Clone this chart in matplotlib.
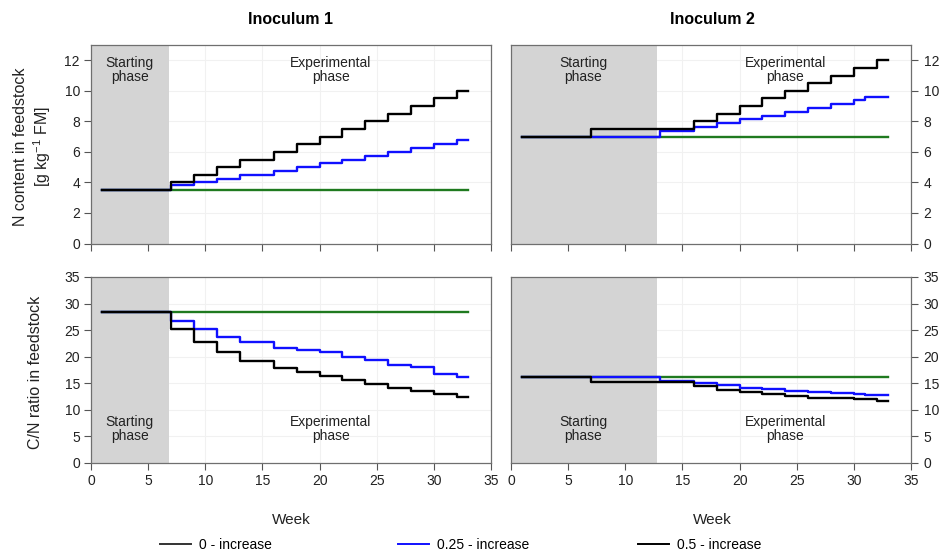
import matplotlib
matplotlib.use("Agg")
import matplotlib.pyplot as plt
from matplotlib.lines import Line2D

plt.rcParams['font.family'] = ['Liberation Sans', 'DejaVu Sans']
plt.rcParams['mathtext.default'] = 'regular'

# weeks where the feeding changes (step functions, value holds until next week)
weeks_i1 = [1, 7, 9, 11, 13, 16, 18, 20, 22, 24, 26, 28, 30, 32, 33]
weeks_i2_black = [1, 7, 16, 18, 20, 22, 24, 26, 28, 30, 32, 33]
weeks_i2_blue = [1, 13, 16, 18, 20, 22, 24, 26, 28, 30, 31, 33]
weeks_flat = [1, 33]

# Inoculum 1
n_i1_00 = [3.5, 3.5]
n_i1_025 = [3.5, 3.8, 4.0, 4.25, 4.5, 4.75, 5.0, 5.25, 5.5, 5.75, 6.0, 6.25, 6.5, 6.75, 6.75]
n_i1_05 = [3.5, 4.0, 4.5, 5.0, 5.5, 6.0, 6.5, 7.0, 7.5, 8.0, 8.5, 9.0, 9.5, 10.0, 10.0]
cn_i1_00 = [28.4, 28.4]
cn_i1_025 = [28.4, 26.7, 25.2, 23.7, 22.8, 21.7, 21.2, 20.8, 20.0, 19.35, 18.5, 18.0, 16.7, 16.1, 16.1]
cn_i1_05 = [28.4, 25.2, 22.8, 20.9, 19.2, 17.9, 17.15, 16.4, 15.6, 14.8, 14.15, 13.6, 12.9, 12.5, 12.5]

# Inoculum 2
n_i2_00 = [7.0, 7.0]
n_i2_025 = [7.0, 7.375, 7.625, 7.875, 8.125, 8.375, 8.625, 8.875, 9.125, 9.375, 9.625, 9.625]
n_i2_05 = [7.0, 7.5, 8.0, 8.5, 9.0, 9.5, 10.0, 10.5, 11.0, 11.5, 12.0, 12.0]
cn_i2_00 = [16.2, 16.2]
cn_i2_025 = [16.2, 15.5, 15.0, 14.6, 14.2, 13.9, 13.6, 13.3, 13.1, 13.0, 12.85, 12.85]
cn_i2_05 = [16.2, 15.3, 14.5, 13.8, 13.3, 12.9, 12.6, 12.3, 12.15, 12.0, 11.75, 11.75]

start_end = [6.8, 12.8]  # end of starting phase (shaded)
labels = ['0 - increase', '0.25 - increase', '0.5 - increase']
colors = ['#1f7a1f', '#1010ff', '#000000']

fig = plt.figure(figsize=(9.41, 5.54), dpi=100)
W, H = 941, 554

def px_axes(x0, y0, x1, y1):
    return fig.add_axes([x0 / W, 1 - y1 / H, (x1 - x0) / W, (y1 - y0) / H])

ax_tl = px_axes(91, 45, 491, 243.5)
ax_tr = px_axes(511, 45, 911, 243.5)
ax_bl = px_axes(91, 277, 491, 463)
ax_br = px_axes(511, 277, 911, 463)

panels = [
    (ax_tl, 0, (weeks_flat, n_i1_00), (weeks_i1, n_i1_025), (weeks_i1, n_i1_05), 'top'),
    (ax_tr, 1, (weeks_flat, n_i2_00), (weeks_i2_blue, n_i2_025), (weeks_i2_black, n_i2_05), 'top'),
    (ax_bl, 0, (weeks_flat, cn_i1_00), (weeks_i1, cn_i1_025), (weeks_i1, cn_i1_05), 'bottom'),
    (ax_br, 1, (weeks_flat, cn_i2_00), (weeks_i2_blue, cn_i2_025), (weeks_i2_black, cn_i2_05), 'bottom'),
]

for ax, inoc, s0, s1, s2, row in panels:
    ax.axvspan(0, start_end[inoc], color='#d4d4d4', lw=0, zorder=1)
    for (wk, val), c in zip([s0, s1, s2], colors):
        ax.step(wk, val, where='post', color=c, lw=1.7, zorder=3)
    ax.set_xlim(0, 35)
    ax.set_xticks(range(0, 36, 5))
    if row == 'top':
        ax.set_ylim(0, 13)
        ax.set_yticks(range(0, 13, 2))
        ax.tick_params(axis='x', labelbottom=False)
        ty = 0.875
    else:
        ax.set_ylim(0, 35)
        ax.set_yticks(range(0, 36, 5))
        ty = 0.185
    ax.grid(True, color='#f1f1f1', lw=0.8, zorder=0)
    ax.set_axisbelow(True)
    for sp in ax.spines.values():
        sp.set_color('#6f6f6f')
        sp.set_linewidth(0.9)
    ax.tick_params(direction='out', length=5, width=0.8, color='#555555',
                   labelsize=10, labelcolor='#222222', pad=3)
    if inoc == 1:
        ax.yaxis.tick_right()
        ax.tick_params(axis='y', pad=4)
    # phase annotations
    sx = start_end[inoc] / 2 if inoc == 0 else 6.3
    ex = 21 if inoc == 0 else 24
    ax.text(sx, ty, 'Starting\nphase', transform=ax.get_xaxis_transform(),
            ha='center', va='center', fontsize=10, color='#222222',
            linespacing=1.0, zorder=4)
    ax.text(ex, ty, 'Experimental\nphase', transform=ax.get_xaxis_transform(),
            ha='center', va='center', fontsize=10, color='#222222',
            linespacing=1.0, zorder=4)

fig.text(291 / W, 1 - 20 / H, 'Inoculum 1', ha='center', va='center',
         fontsize=11.5, fontweight='bold')
fig.text(712 / W, 1 - 20 / H, 'Inoculum 2', ha='center', va='center',
         fontsize=11.5, fontweight='bold')

fig.text(33 / W, 1 - 147 / H, 'N content in feedstock\n[g kg$^{-1}$ FM]',
         rotation=90, ha='center', va='center', fontsize=11.5, linespacing=1.25,
         color='#222222')
fig.text(36 / W, 1 - 372 / H, 'C/N ratio in feedstock', rotation=90,
         ha='center', va='center', fontsize=11.5, color='#222222')

fig.text(291 / W, 1 - 520 / H, 'Week', ha='center', va='center', fontsize=11,
         color='#222222')
fig.text(712 / W, 1 - 520 / H, 'Week', ha='center', va='center', fontsize=11,
         color='#222222')

# legend (first line drawn darker in the original legend)
handles = [Line2D([], [], color='#333333', lw=1.4),
           Line2D([], [], color=colors[1], lw=1.4),
           Line2D([], [], color=colors[2], lw=1.4)]
leg_x = [160, 398, 638]
for h, lab, x in zip(handles, labels, leg_x):
    fig.legend([h], [lab], loc='center left', bbox_to_anchor=(x / W, 1 - 545 / H),
               frameon=False, fontsize=10, handlelength=2.2, handletextpad=0.6,
               borderpad=0, borderaxespad=0)

fig.savefig('out.png', dpi=100)
